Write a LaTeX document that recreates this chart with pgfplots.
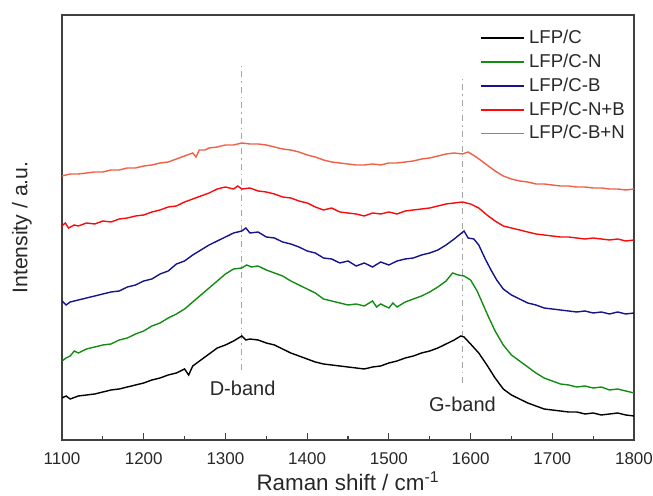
\documentclass[border=0pt]{standalone}
\usepackage{pgfplots}
\pgfplotsset{compat=1.18}
\usetikzlibrary{calc}
\usepackage{fontspec}
\setmainfont{Liberation Sans}

\definecolor{cBlack}{RGB}{0,0,0}
\definecolor{cGreen}{RGB}{20,140,20}
\definecolor{cBlue}{RGB}{20,20,140}
\definecolor{cRed}{RGB}{250,10,10}
\definecolor{cOrange}{RGB}{240,95,70}
\definecolor{txt}{RGB}{40,40,40}

\begin{document}
\begin{tikzpicture}
  \begin{axis}[
      name=ax,
      width=286pt, height=212.5pt, scale only axis,
      xmin=1100, xmax=1800, ymin=17, ymax=442,
      xtick={1100,1200,...,1800},
      minor x tick num=1,
      ytick=\empty,
      xtick pos=lower,
      tick align=inside,
      major tick length=3.5pt, minor tick length=2pt,
      axis line style={line width=0.6pt, black!75},
      every tick/.style={black!75, line width=0.6pt},
      /pgf/number format/assume math mode=true,
      /pgf/number format/set thousands separator={},
      ticklabel style={font=\fontsize{8.5}{10}\selectfont, text=txt},
      xticklabel style={yshift=-3pt},
      xlabel={Raman shift / cm\textsuperscript{-1}},
      ylabel={Intensity / a.u.},
      xlabel style={at={(axis description cs:0.5,-0.098)}, anchor=center,
        font=\fontsize{11.2}{13}\selectfont, text=txt},
      ylabel style={at={(axis description cs:-0.07,0.5)}, anchor=center,
        font=\fontsize{10.6}{12}\selectfont, text=txt},
      legend style={draw=none, fill=none, at={(rel axis cs:0.995,0.98)},
        anchor=north east, font=\fontsize{9.3}{11.5}\selectfont,
        text=txt, row sep=-0.3pt, inner sep=1pt},
      legend cell align=left,
      legend image code/.code={\draw[#1, line width=0.8pt] (0pt,0pt) -- (21.5pt,0pt);},
      every axis plot/.append style={line width=0.7pt},
    ]
    % band markers
    \addplot[forget plot, gray!70, dash dot, line width=0.4pt] coordinates {(1320,87) (1320,395)};
    \addplot[forget plot, gray!70, dash dot, line width=0.4pt] coordinates {(1590,74) (1590,382)};

    % LFP/C
    \addplot[cBlack] coordinates {
      (1100,59) (1105,61) (1110,58) (1120,61) (1130,62) (1140,63) (1150,65)
      (1160,67) (1170,68) (1180,70) (1190,72) (1200,74) (1210,77) (1220,79)
      (1230,82) (1240,84) (1250,88) (1255,82) (1260,91) (1270,97) (1280,103)
      (1290,109) (1300,112) (1310,116) (1320,121) (1325,117) (1330,118)
      (1340,117) (1350,114) (1360,112) (1370,108) (1380,104) (1390,101)
      (1400,98) (1410,95) (1420,93) (1430,92) (1440,91) (1450,90) (1460,89)
      (1470,88) (1480,90) (1490,91) (1500,94) (1510,96) (1520,99) (1530,101)
      (1540,104) (1550,106) (1560,109) (1570,113) (1580,117) (1588,121)
      (1592,120) (1600,113) (1610,104) (1620,92) (1630,79) (1640,68)
      (1650,62) (1660,58) (1670,54) (1680,51) (1690,48) (1700,47) (1710,46)
      (1720,45) (1730,45) (1740,43) (1750,44) (1760,42) (1770,43) (1780,44)
      (1790,42) (1800,41)
    };
    % LFP/C-N
    \addplot[cGreen] coordinates {
      (1100,96) (1105,99) (1110,101) (1115,106) (1120,104) (1130,108)
      (1140,110) (1150,112) (1160,113) (1170,117) (1180,119) (1190,123)
      (1200,126) (1210,131) (1220,134) (1230,139) (1240,143) (1250,148)
      (1260,155) (1270,162) (1280,169) (1290,176) (1300,183) (1310,188)
      (1320,189) (1326,192) (1332,190) (1340,191) (1350,187) (1360,184)
      (1370,181) (1380,176) (1390,172) (1400,168) (1410,164) (1420,158)
      (1430,156) (1440,154) (1450,152) (1460,153) (1470,151) (1480,156)
      (1485,150) (1490,153) (1500,149) (1505,154) (1510,150) (1520,155)
      (1530,158) (1540,161) (1550,165) (1560,170) (1570,176) (1578,184)
      (1585,182) (1592,181) (1600,177) (1608,166) (1615,153) (1622,140)
      (1630,126) (1640,112) (1650,102) (1660,96) (1670,90) (1680,84)
      (1690,79) (1700,76) (1710,73) (1720,72) (1730,70) (1740,71) (1750,69)
      (1760,70) (1770,67) (1780,68) (1790,66) (1800,64)
    };
    % LFP/C-B
    \addplot[cBlue] coordinates {
      (1100,156) (1105,152) (1110,155) (1120,157) (1130,159) (1140,161)
      (1150,163) (1160,165) (1170,166) (1180,170) (1190,172) (1200,176)
      (1210,178) (1220,183) (1230,186) (1240,193) (1250,196) (1260,202)
      (1270,207) (1280,212) (1290,216) (1300,220) (1310,224) (1320,226)
      (1325,229) (1330,224) (1340,225) (1350,220) (1360,219) (1370,215)
      (1380,213) (1390,210) (1400,206) (1410,204) (1420,199) (1430,198)
      (1440,194) (1450,196) (1460,191) (1470,194) (1480,190) (1490,195)
      (1500,192) (1510,196) (1520,198) (1530,199) (1540,202) (1550,204)
      (1560,207) (1570,212) (1580,218) (1586,222) (1592,226) (1597,219)
      (1604,218) (1610,212) (1618,198) (1625,187) (1632,177) (1640,168)
      (1650,162) (1660,158) (1670,154) (1680,152) (1690,149) (1700,148)
      (1710,147) (1720,146) (1730,145) (1740,146) (1750,144) (1760,145)
      (1770,143) (1780,145) (1790,143) (1800,144)
    };
    % LFP/C-N+B
    \addplot[cRed] coordinates {
      (1100,231) (1104,234) (1108,229) (1115,232) (1120,231) (1130,234)
      (1140,233) (1150,236) (1160,235) (1170,238) (1180,239) (1190,241)
      (1200,242) (1210,245) (1220,247) (1230,250) (1240,251) (1250,255)
      (1260,258) (1270,261) (1280,264) (1290,268) (1300,270) (1310,268)
      (1315,271) (1320,268) (1330,269) (1340,266) (1350,265) (1360,263)
      (1370,260) (1380,259) (1390,256) (1400,254) (1410,250) (1420,247)
      (1430,249) (1440,245) (1450,244) (1460,243) (1470,241) (1480,244)
      (1490,243) (1500,245) (1510,243) (1520,246) (1530,247) (1540,248)
      (1550,249) (1560,251) (1570,253) (1580,254) (1590,255) (1600,253)
      (1610,249) (1620,242) (1630,236) (1640,231) (1650,229) (1660,227)
      (1670,225) (1680,223) (1690,222) (1700,221) (1710,220) (1720,220)
      (1730,219) (1740,218) (1750,219) (1760,218) (1770,217) (1780,218)
      (1790,216) (1800,217)
    };
    % LFP/C-B+N
    \addplot[cOrange] coordinates {
      (1100,281) (1110,283) (1120,283) (1130,284) (1140,285) (1150,285)
      (1160,287) (1170,287) (1180,289) (1190,289) (1200,291) (1210,292)
      (1220,294) (1230,295) (1240,298) (1250,301) (1260,304) (1264,300)
      (1268,307) (1275,307) (1280,309) (1290,310) (1300,312) (1310,312)
      (1320,314) (1330,313) (1340,313) (1350,312) (1360,310) (1370,308)
      (1380,307) (1390,305) (1400,302) (1410,300) (1420,297) (1430,295)
      (1440,294) (1450,293) (1460,292) (1470,292) (1480,293) (1490,292)
      (1500,294) (1510,294) (1520,295) (1530,296) (1540,298) (1550,299)
      (1560,301) (1570,303) (1580,304) (1590,303) (1597,305) (1605,301)
      (1612,297) (1620,292) (1630,286) (1640,281) (1650,278) (1660,276)
      (1670,275) (1680,273) (1690,273) (1700,272) (1710,271) (1720,271)
      (1730,270) (1740,270) (1750,269) (1760,269) (1770,268) (1780,268)
      (1790,267) (1800,268)
    };
    \legend{LFP/C, LFP/C-N, LFP/C-B, LFP/C-N+B, LFP/C-B+N}

    \node[font=\fontsize{10}{12}\selectfont, text=txt] at (axis cs:1321,69) {D-band};
    \node[font=\fontsize{10}{12}\selectfont, text=txt] at (axis cs:1590,53) {G-band};
  \end{axis}
  \pgfresetboundingbox
  \path[use as bounding box] ($(ax.south west)+(-31pt,-28pt)$)
    rectangle ($(ax.north east)+(9.5pt,7.5pt)$);
\end{tikzpicture}
\end{document}
